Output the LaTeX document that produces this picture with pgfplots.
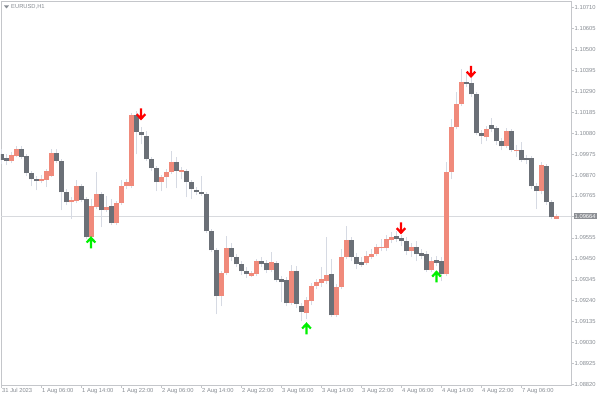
\documentclass[border=0pt]{standalone}
\usepackage{pgfplots}
\pgfplotsset{compat=1.18}
\usepackage{pgfplotstable}
\usepackage{fontspec}
\setmainfont{Liberation Sans}
\definecolor{bull}{HTML}{F08A7B}
\definecolor{bear}{HTML}{6B7077}
\definecolor{wick}{HTML}{D6DAE3}
\definecolor{frame}{HTML}{C4C6CA}
\definecolor{txt}{HTML}{868B92}
\definecolor{pline}{HTML}{D8DADE}
\definecolor{pbox}{HTML}{8C8F94}
\definecolor{arrred}{HTML}{FF0000}
\definecolor{arrgreen}{HTML}{00F000}

\pgfdeclareplotmark{arrdown}{%
  \pgfpathmoveto{\pgfqpoint{0pt}{6pt}}\pgfpathlineto{\pgfqpoint{0pt}{-4.5pt}}%
  \pgfpathmoveto{\pgfqpoint{-4.3pt}{0.2pt}}\pgfpathlineto{\pgfqpoint{0pt}{-4.5pt}}\pgfpathlineto{\pgfqpoint{4.3pt}{0.2pt}}%
  \pgfusepathqstroke}
\pgfdeclareplotmark{arrup}{%
  \pgfpathmoveto{\pgfqpoint{0pt}{-6pt}}\pgfpathlineto{\pgfqpoint{0pt}{4.5pt}}%
  \pgfpathmoveto{\pgfqpoint{-4.3pt}{-0.2pt}}\pgfpathlineto{\pgfqpoint{0pt}{4.5pt}}\pgfpathlineto{\pgfqpoint{4.3pt}{-0.2pt}}%
  \pgfusepathqstroke}

\pgfplotstableread{
i o h l c
0 1.09974 1.09999 1.09923 1.09944
1 1.09954 1.09974 1.09918 1.09939
4 1.09999 1.10014 1.09949 1.09959
5 1.09964 1.09974 1.09863 1.09878
6 1.09878 1.09888 1.09813 1.09848
7 1.09848 1.09863 1.09793 1.09838
11 1.09979 1.09999 1.09929 1.09939
12 1.09939 1.09949 1.09693 1.09783
13 1.09783 1.09798 1.09718 1.09733
16 1.09813 1.09823 1.09733 1.09743
17 1.09748 1.09758 1.09548 1.09558
20 1.09773 1.09783 1.09608 1.09693
22 1.09713 1.09748 1.09618 1.09628
27 1.10169 1.10189 1.09974 1.10084
28 1.10084 1.10109 1.10024 1.10069
29 1.10064 1.10089 1.09939 1.09949
30 1.09949 1.09959 1.09888 1.09903
31 1.09903 1.09913 1.09788 1.09833
35 1.09934 1.09959 1.09803 1.09888
37 1.09888 1.09898 1.09758 1.09833
38 1.09833 1.09843 1.09748 1.09798
39 1.09793 1.09808 1.09768 1.09783
40 1.09783 1.09863 1.09763 1.09773
41 1.09773 1.09783 1.09578 1.09588
42 1.09588 1.09598 1.09483 1.09493
43 1.09493 1.09503 1.09172 1.09262
46 1.09503 1.09528 1.09437 1.09457
47 1.09457 1.09472 1.09407 1.09422
48 1.09422 1.09437 1.09367 1.09387
49 1.09387 1.09407 1.09352 1.09372
52 1.09437 1.09457 1.09407 1.09422
53 1.09427 1.09442 1.09377 1.09392
55 1.09427 1.09437 1.09332 1.09342
56 1.09347 1.09362 1.09232 1.09334
57 1.09342 1.09357 1.09212 1.09227
59 1.09387 1.09412 1.09202 1.09222
60 1.09212 1.09227 1.09137 1.09182
66 1.09372 1.09447 1.09157 1.09167
70 1.09543 1.09558 1.09437 1.09457
71 1.09457 1.09478 1.09397 1.09422
72 1.09432 1.09457 1.09407 1.09420
79 1.09563 1.09588 1.09533 1.09550
80 1.09553 1.09568 1.09513 1.09538
81 1.09538 1.09558 1.09467 1.09488
83 1.09508 1.09538 1.09437 1.09472
84 1.09478 1.09498 1.09447 1.09466
85 1.09472 1.09488 1.09382 1.09392
87 1.09442 1.09462 1.09412 1.09430
88 1.09437 1.09457 1.09337 1.09372
93 1.10334 1.10384 1.10309 1.10326
94 1.10329 1.10374 1.10259 1.10274
95 1.10274 1.10284 1.10069 1.10079
96 1.10079 1.10094 1.10024 1.10064
98 1.10119 1.10154 1.10084 1.10099
99 1.10104 1.10114 1.10019 1.10039
100 1.10039 1.10054 1.09994 1.10014
102 1.10089 1.10099 1.09984 1.09994
104 1.09994 1.10034 1.09934 1.09944
105 1.09954 1.09969 1.09923 1.09944
106 1.09954 1.09964 1.09798 1.09813
107 1.09813 1.09828 1.09698 1.09788
109 1.09913 1.09923 1.09718 1.09733
110 1.09733 1.09743 1.09648 1.09658
}\beartab

\pgfplotstableread{
i o h l c
2 1.09939 1.09984 1.09929 1.09969
3 1.09964 1.10014 1.09959 1.09999
8 1.09838 1.09868 1.09828 1.09850
9 1.09843 1.09898 1.09808 1.09888
10 1.09863 1.09999 1.09858 1.09979
14 1.09733 1.09758 1.09648 1.09745
15 1.09738 1.09843 1.09728 1.09813
18 1.09558 1.09748 1.09548 1.09713
19 1.09708 1.09883 1.09698 1.09773
21 1.09693 1.09763 1.09683 1.09708
23 1.09628 1.09738 1.09618 1.09728
24 1.09728 1.09843 1.09718 1.09813
25 1.09813 1.09848 1.09798 1.09833
26 1.09813 1.10179 1.09803 1.10169
32 1.09833 1.09868 1.09788 1.09858
33 1.09858 1.09898 1.09803 1.09883
34 1.09883 1.09989 1.09873 1.09934
36 1.09886 1.09908 1.09848 1.09893
44 1.09262 1.09387 1.09212 1.09377
45 1.09377 1.09563 1.09367 1.09503
50 1.09366 1.09387 1.09357 1.09377
51 1.09372 1.09447 1.09362 1.09437
54 1.09392 1.09483 1.09382 1.09432
58 1.09227 1.09417 1.09217 1.09387
61 1.09177 1.09257 1.09147 1.09242
62 1.09237 1.09327 1.09217 1.09312
63 1.09312 1.09347 1.09297 1.09332
64 1.09327 1.09407 1.09307 1.09347
65 1.09337 1.09558 1.09322 1.09367
67 1.09167 1.09322 1.09157 1.09307
68 1.09307 1.09498 1.09297 1.09457
69 1.09457 1.09613 1.09447 1.09543
73 1.09427 1.09488 1.09417 1.09462
74 1.09457 1.09498 1.09447 1.09472
75 1.09472 1.09523 1.09462 1.09508
76 1.09502 1.09548 1.09488 1.09509
77 1.09503 1.09568 1.09488 1.09548
78 1.09543 1.09583 1.09528 1.09558
82 1.09488 1.09528 1.09457 1.09508
86 1.09392 1.09457 1.09382 1.09437
89 1.09372 1.09934 1.09362 1.09883
90 1.09883 1.10149 1.09848 1.10109
91 1.10109 1.10284 1.10099 1.10224
92 1.10224 1.10399 1.10214 1.10334
97 1.10059 1.10114 1.10039 1.10099
101 1.10014 1.10104 1.10004 1.10089
103 1.09988 1.10019 1.09959 1.09995
108 1.09788 1.09934 1.09773 1.09918
111 1.09652 1.09673 1.09648 1.09664
}\bulltab

\begin{document}
\begin{tikzpicture}
\begin{axis}[
  at={(0pt,0pt)}, anchor=south west,
  scale only axis, width=570pt, height=384pt,
  xmin=-0.1, xmax=113.9, ymin=1.08818, ymax=1.10742,
  axis line style={draw=frame, line width=0.8pt},
  tick align=outside, major tick length=2.5pt,
  tick style={draw=frame, line width=0.6pt},
  xtick pos=bottom, ytick pos=right,
  xtick={0,8,16,24,32,40,48,56,64,72,80,88,96,104},
  xticklabels={31 Jul 2023,1 Aug 06:00,1 Aug 14:00,1 Aug 22:00,2 Aug 06:00,2 Aug 14:00,2 Aug 22:00,3 Aug 06:00,3 Aug 14:00,3 Aug 22:00,4 Aug 06:00,4 Aug 14:00,4 Aug 22:00,7 Aug 06:00},
  xticklabel style={anchor=north west, inner sep=0.5pt, font=\fontsize{5.8}{6}\selectfont, text=txt},
  ytick={1.08820,1.08925,1.09030,1.09135,1.09240,1.09345,1.09450,1.09555,1.09765,1.09870,1.09975,1.10080,1.10185,1.10290,1.10395,1.10500,1.10605,1.10710},
  yticklabels={1.08820,1.08925,1.09030,1.09135,1.09240,1.09345,1.09450,1.09555,1.09765,1.09870,1.09975,1.10080,1.10185,1.10290,1.10395,1.10500,1.10605,1.10710},
  yticklabel style={anchor=west, inner sep=1pt, font=\fontsize{5.8}{6}\selectfont, text=txt},
  extra y ticks={1.09664}, extra y tick labels={1.09664},
  extra y tick style={yticklabel style={fill=pbox, text=white, inner sep=1pt}},
  candle/.style={draw=none, mark=none, forget plot, error bars/.cd, y dir=plus, y explicit, error mark=none},
]
% current price line
\addplot[pline, line width=0.7pt, forget plot] coordinates {(-0.1,1.09664) (113.9,1.09664)};
% wicks
\addplot[candle, error bar style={draw=wick, line width=1pt}]
  table[x=i, y=l, y error plus expr=\thisrow{h}-\thisrow{l}] {\beartab};
\addplot[candle, error bar style={draw=wick, line width=1pt}]
  table[x=i, y=l, y error plus expr=\thisrow{h}-\thisrow{l}] {\bulltab};
% bodies
\addplot[candle, error bar style={draw=bear, line width=4.1pt}]
  table[x=i, y=c, y error plus expr=\thisrow{o}-\thisrow{c}] {\beartab};
\addplot[candle, error bar style={draw=bull, line width=4.1pt}]
  table[x=i, y=o, y error plus expr=\thisrow{c}-\thisrow{o}] {\bulltab};
% fractal arrows
\addplot[only marks, mark=arrdown, mark options={draw=arrred, line width=2.2pt, miter limit=2}]
  coordinates {(27.9,1.10174) (79.9,1.09603) (93.9,1.10387)};
\addplot[only marks, mark=arrup, mark options={draw=arrgreen, line width=2.2pt, miter limit=2}]
  coordinates {(17.9,1.09533) (61.0,1.09102) (87.0,1.09362)};
\end{axis}
\fill[txt] (3pt,379.5pt) -- (8pt,379.5pt) -- (5.5pt,376.5pt) -- cycle;
\node[anchor=west, inner sep=0pt, font=\fontsize{5.8}{6}\selectfont, text=txt] at (10pt,378.5pt) {EURUSD,H1};
\pgfresetboundingbox
\path (-1pt,-15pt) rectangle (599pt,385pt);
\end{tikzpicture}
\end{document}
